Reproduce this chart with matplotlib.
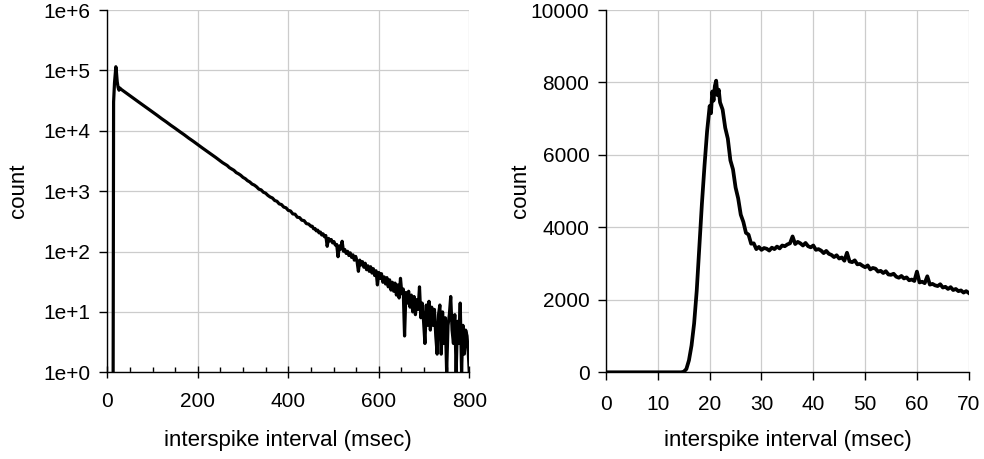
import numpy as np
import matplotlib
matplotlib.use('Agg')
import matplotlib.pyplot as plt
from matplotlib.ticker import FixedLocator, FixedFormatter

plt.rcParams['font.family'] = ['Liberation Sans', 'DejaVu Sans']

# left panel: ISI histogram, 0-800 ms, log count
left_ms = [13, 14, 16, 18, 19, 20, 21, 22, 24, 26, 28, 30, 35,
           40, 50, 60, 70, 80, 90, 100, 110, 120, 130, 140, 150, 160, 170,
           180, 190, 200, 210, 220, 230, 240, 250,
           255, 260, 265, 270, 275, 280, 285, 290, 295, 300, 305, 310, 315,
           320, 325, 330, 335, 340, 345, 350, 355, 360, 365, 370, 375, 380,
           385, 390, 395, 400, 405, 410, 415, 420, 425, 430, 435, 440, 445, 450,
           453, 456, 459, 462, 465, 468, 471, 474, 477, 480, 483, 486, 489, 492,
           495, 498, 501, 504, 507, 510, 513, 516, 519, 522, 525, 528, 531, 534,
           537, 540, 543, 546, 549, 552, 555, 558, 561, 564, 567, 570, 573, 576,
           579, 582, 585, 588, 591, 594, 597, 600, 603, 606, 609, 612, 615, 618,
           621, 624, 627, 630, 633, 636, 639, 642, 645, 648, 651, 654, 657, 660,
           663, 666, 669, 672, 675, 678, 681, 684, 687, 690, 693, 696, 699, 702,
           705, 708, 711, 714, 717, 720, 723, 726, 729, 732, 735, 738, 741, 744,
           747, 750, 753, 756, 759, 762, 765, 768, 771, 774, 777, 780, 783, 786,
           789, 792, 795, 798, 800]
left_count = [1, 30000, 62000, 95000, 115000, 100000, 80000, 65000, 52000, 47000, 51000, 49000, 46000,
              43200, 38200, 33700, 29700, 26200, 23200, 20500, 18100, 15900, 14100, 12400, 11000, 9700, 8600,
              7550, 6700, 5900, 5200, 4600, 4050, 3600, 3150,
              2960, 2800, 2660, 2450, 2330, 2210, 2030, 1940, 1830, 1690, 1610, 1490, 1420,
              1310, 1260, 1180, 1080, 1050, 960, 925, 850, 800, 770, 700, 680, 615,
              600, 545, 530, 480, 470, 420, 415, 370, 365, 330, 325, 290, 285, 262,
              262, 238, 241, 220, 226, 204, 210, 188, 196, 176, 184, 122, 165, 150,
              158, 139, 146, 128, 131, 82, 124, 110, 148, 101, 108, 93, 101, 86,
              95, 80, 88, 72, 83, 69, 47, 72, 60, 68, 55, 64, 50, 58,
              47, 56, 44, 52, 40, 48, 28, 45, 36, 43, 31, 38, 29, 37,
              26, 34, 23, 31, 22, 30, 19, 28, 17, 36, 20, 24, 4, 21,
              14, 22, 12, 19, 10, 18, 9, 16, 11, 26, 8, 14, 7, 3,
              13, 6, 15, 5, 12, 6, 11, 4, 2, 9, 13, 2, 10, 3,
              8, 1, 6, 9, 18, 5, 3, 9, 1, 7, 3, 14, 1, 6,
              2, 5, 4, 2, 1]

left_yticks = [1, 10, 100, 1000, 10000, 100000, 1000000]
left_ylabels = ['1e+0', '1e+1', '1e+2', '1e+3', '1e+4', '1e+5', '1e+6']
left_xticks = [0, 200, 400, 600, 800]

# right panel: same histogram, 0-70 ms, linear count
right_ms = [0, 14.5, 15, 15.5, 16, 16.5, 17, 17.5, 18, 18.5, 19, 19.5, 20, 20.25,
            20.5, 20.75, 21, 21.25, 21.5, 21.75, 22, 22.5, 23, 23.5, 24, 24.5, 25,
            25.5, 26, 26.5, 27, 27.5, 28, 28.5, 29, 29.5, 30, 30.5, 31, 31.5, 32,
            32.5, 33, 33.5, 34, 34.5, 35, 35.5, 36, 36.5, 37, 37.5, 38, 38.5, 39,
            39.5, 40, 40.5, 41, 41.5, 42, 42.5, 43, 43.5, 44, 44.5, 45, 45.5, 46,
            46.5, 47, 47.5, 48, 48.5, 49, 49.5, 50, 50.5, 51, 51.5, 52, 52.5, 53,
            53.5, 54, 54.5, 55, 55.5, 56, 56.5, 57, 57.5, 58, 58.5, 59, 59.5, 60,
            60.5, 61, 61.5, 62, 62.5, 63, 63.5, 64, 64.5, 65, 65.5, 66, 66.5, 67,
            67.5, 68, 68.5, 69, 69.5, 70]
right_count = [0, 0, 15, 90, 330, 740, 1350, 2250, 3450, 4650, 5700, 6650, 7350, 7150,
               7750, 7500, 7900, 8050, 7650, 7800, 7450, 7250, 6750, 6450, 5850, 5600, 5100,
               4800, 4350, 4150, 3850, 3800,
               3550, 3560, 3400, 3460, 3380, 3430, 3410, 3360, 3440, 3400, 3470, 3420,
               3500, 3480, 3530, 3560, 3750,
               3540, 3600, 3560, 3500, 3570, 3480, 3450, 3500,
               3380, 3400, 3360, 3290, 3350, 3270, 3240, 3180,
               3230, 3140, 3170, 3080, 3300, 3060, 3040, 3090,
               2980, 2990, 2940, 2900, 2950, 2840, 2880, 2860,
               2780, 2800, 2740, 2790, 2700, 2690, 2720, 2640,
               2610, 2660, 2590, 2620, 2540, 2560, 2520, 2780,
               2480, 2500, 2460, 2650, 2420, 2440, 2400, 2380,
               2430, 2340, 2360, 2300, 2350, 2270, 2300, 2240,
               2260, 2200, 2240, 2190]

right_yticks = [0, 2000, 4000, 6000, 8000, 10000]
right_xticks = [0, 10, 20, 30, 40, 50, 60, 70]

xlabel = 'interspike interval (msec)'
ylabel = 'count'

fig = plt.figure(figsize=(9.84, 4.59), dpi=100)
ax1 = fig.add_axes([0.1090, 0.1889, 0.3679, 0.7893])
ax2 = fig.add_axes([0.6159, 0.1889, 0.3686, 0.7893])

grid_col = '#cccccc'

for ax in (ax1, ax2):
    ax.spines['top'].set_visible(False)
    ax.spines['right'].set_visible(False)
    ax.spines['left'].set_linewidth(1.0)
    ax.spines['bottom'].set_linewidth(1.0)
    ax.grid(True, color=grid_col, linewidth=0.9)
    ax.set_axisbelow(True)
    ax.tick_params(labelsize=15, width=1.0)

# left
ax1.plot(left_ms, left_count, color='black', linewidth=2.3)
ax1.set_yscale('log')
ax1.set_xlim(0, 800)
ax1.set_ylim(1, 1e6)
ax1.yaxis.set_major_locator(FixedLocator(left_yticks))
ax1.yaxis.set_major_formatter(FixedFormatter(left_ylabels))
ax1.yaxis.set_minor_locator(FixedLocator([]))
ax1.set_xticks(left_xticks)
ax1.xaxis.set_minor_locator(FixedLocator(np.arange(50, 800, 50)))
ax1.tick_params(axis='y', direction='out', length=6, pad=6)
ax1.tick_params(axis='x', which='major', direction='inout', length=9, pad=10)
ax1.tick_params(axis='x', which='minor', direction='in', length=3.5, width=1.0)

# right
ax2.plot(right_ms, right_count, color='black', linewidth=2.7)
ax2.set_xlim(0, 70)
ax2.set_ylim(0, 10000)
ax2.set_xticks(right_xticks)
ax2.set_yticks(right_yticks)
ax2.tick_params(axis='y', direction='out', length=6, pad=6)
ax2.tick_params(axis='x', direction='out', length=6, pad=10)

for ax, lx in ((ax1, -0.216), (ax2, -0.207)):
    ax.set_xlabel(xlabel, fontsize=16)
    ax.set_ylabel(ylabel, fontsize=16)
    ax.xaxis.set_label_coords(0.5, -0.158)
    ax.yaxis.set_label_coords(lx, 0.5)

fig.savefig('out.png', dpi=100)
